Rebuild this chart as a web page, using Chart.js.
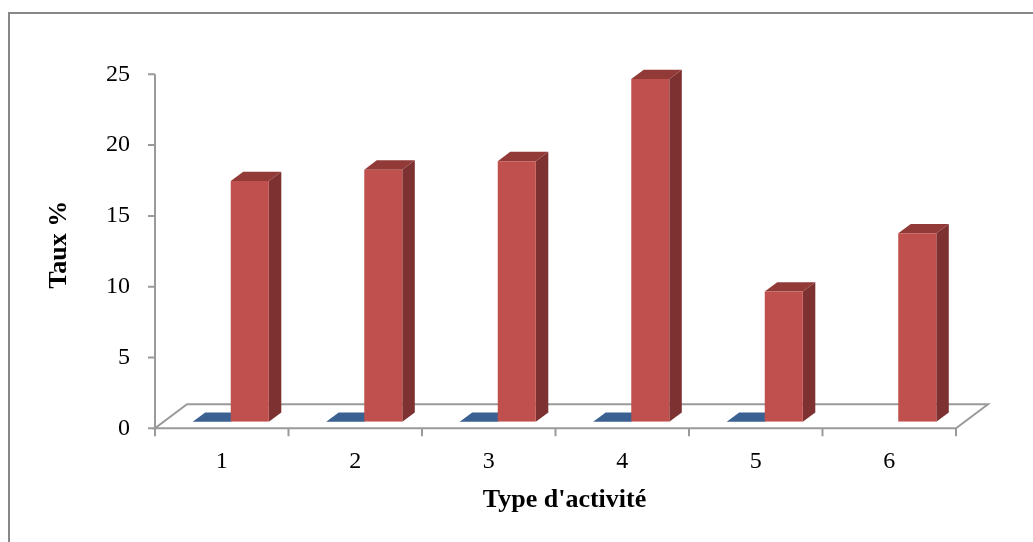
<!DOCTYPE html>
<html>
<head>
<meta charset="utf-8">
<script src="https://cdn.jsdelivr.net/npm/chart.js@4.4.1/dist/chart.umd.min.js"></script>
<style>
  html, body { margin: 0; padding: 0; background: #fff; }
  canvas { display: block; }
</style>
</head>
<body>
<canvas id="c" width="1033" height="542"></canvas>
<script>
// Données
const categories = ['1', '2', '3', '4', '5', '6'];
const serieBleue = [0, 0, 0, 0, 0, null];
const serieRouge = [17.0, 17.8, 18.4, 24.2, 9.2, 13.3];
const yTickValues = [0, 5, 10, 15, 20, 25];

const SERIF = '"Liberation Serif", "Times New Roman", serif';

// Projection oblique : les barres sont un peu en retrait du bord avant du plancher
const BAR_SHIFT = { x: 9, y: 6.6 };      // plan des barres -> plan avant
const FLOOR_DEPTH = { x: 32, y: 24 };    // bord avant -> bord arrière du plancher
const BAR_DEPTH = { x: 12.5, y: 9.3 };   // épaisseur des colonnes

const faces = [
  { front: '#3C6494', top: '#3A6191', side: '#2B4A70' },
  { front: '#C0504D', top: '#923A37', side: '#7D3130' }
];

const decor = {
  id: 'decor',
  beforeDraw(chart) {
    const ctx = chart.ctx;
    ctx.save();
    ctx.fillStyle = '#fff';
    ctx.fillRect(0, 0, chart.width, chart.height);
    ctx.strokeStyle = '#878787';
    ctx.lineWidth = 2;
    ctx.strokeRect(9, 13, chart.width + 20, chart.height + 20);
    ctx.restore();
  },
  beforeDatasetsDraw(chart) {
    const { ctx, chartArea: a, scales: { x, y } } = chart;
    const fy = y.getPixelForValue(0) + BAR_SHIFT.y;
    const fl = a.left - BAR_SHIFT.x;
    const fr = a.right - BAR_SHIFT.x;
    ctx.save();
    // plancher
    ctx.strokeStyle = '#9a9a9a';
    ctx.lineWidth = 2;
    ctx.fillStyle = '#fff';
    ctx.beginPath();
    ctx.moveTo(fl, fy);
    ctx.lineTo(fr, fy);
    ctx.lineTo(fr + FLOOR_DEPTH.x, fy - FLOOR_DEPTH.y);
    ctx.lineTo(fl + FLOOR_DEPTH.x, fy - FLOOR_DEPTH.y);
    ctx.closePath();
    ctx.fill();
    ctx.stroke();
    // axe des valeurs et graduations
    ctx.beginPath();
    ctx.moveTo(fl, y.getPixelForValue(yTickValues[yTickValues.length - 1]) + BAR_SHIFT.y);
    ctx.lineTo(fl, fy);
    yTickValues.forEach(v => {
      const py = y.getPixelForValue(v) + BAR_SHIFT.y;
      ctx.moveTo(fl - 7, py);
      ctx.lineTo(fl, py);
    });
    // graduations des catégories
    for (let i = 0; i <= categories.length; i++) {
      const px = x.getPixelForValue(i - 0.5) - BAR_SHIFT.x;
      ctx.moveTo(px, fy);
      ctx.lineTo(px, fy + 8);
    }
    ctx.stroke();

    // faces supérieures et latérales des colonnes (les faces avant sont dessinées par Chart.js)
    chart.data.datasets.forEach((ds, di) => {
      const meta = chart.getDatasetMeta(di);
      const f = faces[di];
      meta.data.forEach((el, i) => {
        if (ds.data[i] === null || ds.data[i] === undefined) return;
        const p = el.getProps(['x', 'y', 'base', 'width'], true);
        const l = p.x - p.width / 2, r = p.x + p.width / 2;
        const top = Math.min(p.y, p.base), bot = Math.max(p.y, p.base);
        // côté
        ctx.fillStyle = f.side;
        ctx.beginPath();
        ctx.moveTo(r, top);
        ctx.lineTo(r + BAR_DEPTH.x, top - BAR_DEPTH.y);
        ctx.lineTo(r + BAR_DEPTH.x, bot - BAR_DEPTH.y);
        ctx.lineTo(r, bot);
        ctx.closePath();
        ctx.fill();
        // dessus
        ctx.fillStyle = f.top;
        ctx.beginPath();
        ctx.moveTo(l, top);
        ctx.lineTo(r, top);
        ctx.lineTo(r + BAR_DEPTH.x, top - BAR_DEPTH.y);
        ctx.lineTo(l + BAR_DEPTH.x, top - BAR_DEPTH.y);
        ctx.closePath();
        ctx.fill();
      });
    });
    ctx.restore();
  }
};

new Chart(document.getElementById('c'), {
  type: 'bar',
  data: {
    labels: categories,
    datasets: [
      { label: 'Série 1', data: serieBleue, backgroundColor: faces[0].front, borderWidth: 0 },
      { label: 'Série 2', data: serieRouge, backgroundColor: faces[1].front, borderWidth: 0 }
    ]
  },
  options: {
    responsive: false,
    devicePixelRatio: 1,
    animation: false,
    events: [],
    layout: { padding: { top: 67.7, right: 68, bottom: 22, left: 40 } },
    datasets: { bar: { categoryPercentage: 0.57, barPercentage: 1.0 } },
    plugins: { legend: { display: false }, tooltip: { enabled: false } },
    scales: {
      x: {
        grid: { display: false },
        border: { display: false },
        ticks: {
          color: '#000',
          font: { family: SERIF, size: 24 },
          padding: 18,
          labelOffset: -BAR_SHIFT.x,
          maxRotation: 0
        },
        title: {
          display: true,
          text: "Type d'activité",
          color: '#000',
          font: { family: SERIF, size: 26, weight: 'bold' }
        },
        afterFit(scale) { scale.height = 98.3; }
      },
      y: {
        min: 0,
        max: 25,
        grid: { display: false },
        border: { display: false },
        ticks: {
          color: '#000',
          font: { family: SERIF, size: 24 },
          padding: 26,
          labelOffset: BAR_SHIFT.y
        },
        afterBuildTicks(scale) { scale.ticks = yTickValues.map(v => ({ value: v })); },
        title: {
          display: true,
          text: 'Taux %',
          color: '#000',
          font: { family: SERIF, size: 26, weight: 'bold' }
        },
        afterFit(scale) { scale.width = 124; }
      }
    }
  },
  plugins: [decor]
});
</script>
</body>
</html>
